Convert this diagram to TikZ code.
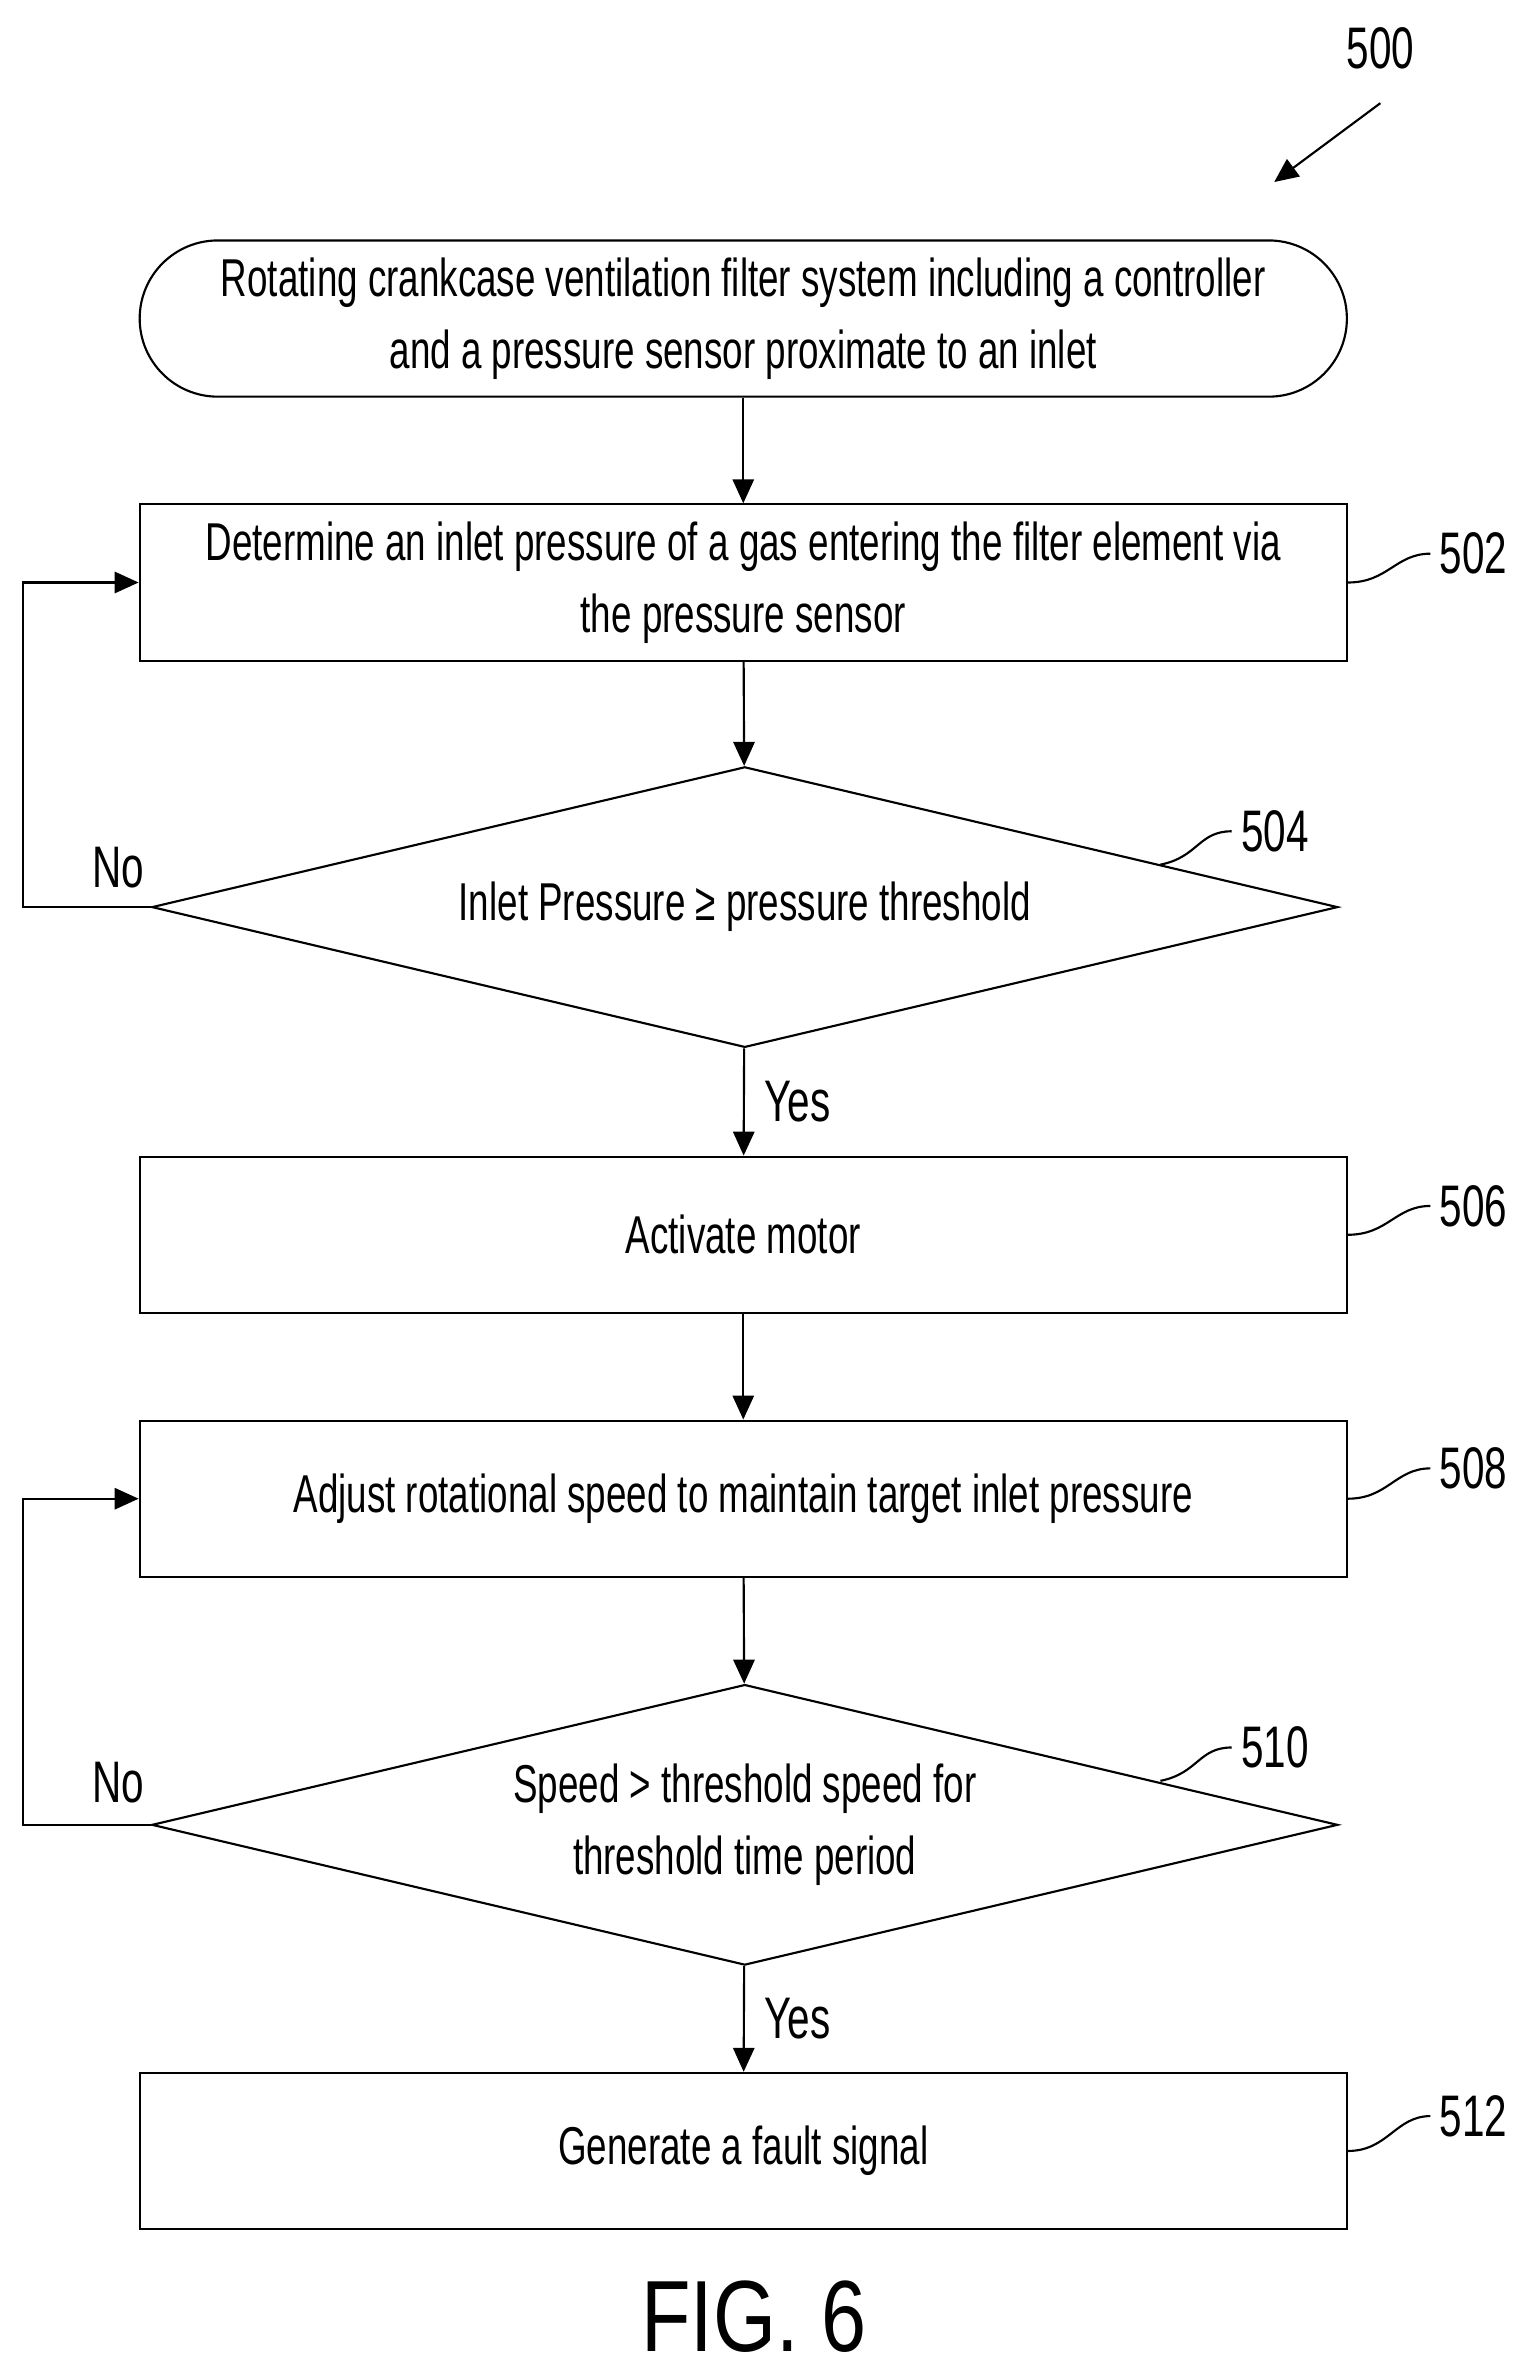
\documentclass[tikz,border=0pt]{standalone}
\usepackage{fontspec}
\setmainfont{Liberation Sans}[FakeStretch=0.69]
\newfontfamily\figfont{Liberation Sans}[FakeStretch=0.8]
\usetikzlibrary{arrows.meta,shapes.geometric,positioning}
\tikzset{
  box/.style = {draw, thick, minimum width=15.92cm, minimum height=2.06cm, align=center, font=\fontsize{20}{27}\selectfont},
  term/.style = {box, rounded corners=1.03cm},
  dec/.style = {draw, thick, diamond, aspect=4.25, minimum width=15.64cm, minimum height=3.7cm, align=center, font=\fontsize{20}{27}\selectfont, inner sep=0pt},
  flow/.style = {thick, -{Triangle[length=9pt,width=8pt]}},
  lbl/.style = {font=\fontsize{22}{26}\selectfont},
  ref/.style = {lbl, anchor=west}
}
\begin{document}
\begin{tikzpicture}[x=0.02cm, y=-0.02cm]
    \useasboundingbox (0,0) rectangle (1000,1569);

    \node [term] (start) at (490,210) {Rotating crankcase ventilation filter system including a controller\\and a pressure sensor proximate to an inlet};
    \node [box] (b502) at (490,384) {Determine an inlet pressure of a gas entering the filter element via\\the pressure sensor};
    \node [dec] (d504) at (491,598) {Inlet Pressure ≥ pressure threshold};
    \node [box] (b506) at (490,814) {Activate motor};
    \node [box] (b508) at (490,988) {Adjust rotational speed to maintain target inlet pressure};
    \node [dec] (d510) at (491,1203) {Speed > threshold speed for\\threshold time period};
    \node [box] (b512) at (490,1418) {Generate a fault signal};

    % main flow
    \draw [flow] (start) -- (b502);
    \draw [flow] (b502) -- (d504);
    \draw [flow] (d504) -- node [right, lbl, xshift=4pt] {Yes} (b506);
    \draw [flow] (b506) -- (b508);
    \draw [flow] (b508) -- (d510);
    \draw [flow] (d510) -- node [right, lbl, xshift=4pt] {Yes} (b512);

    % loops back
    \coordinate (c504) at (15,598);
    \coordinate (c510) at (15,1203);
    \draw [flow] (d504.west) -- (c504) |- (b502.west);
    \draw [flow] (d510.west) -- (c510) |- (b508.west);
    \node [lbl] (no504) at (78,572) {No};
    \node [lbl] (no510) at (78,1175) {No};

    % reference numerals
    \node [lbl] (n500) at (910,32) {500};
    \coordinate (a500) at (910,68);
    \draw [flow] (a500) -- (840,120);
    \node [ref] (n502) at (943,365) {502};
    \node [ref] (n504) at (812,548) {504};
    \node [ref] (n506) at (943,795) {506};
    \node [ref] (n508) at (943,968) {508};
    \node [ref] (n510) at (812,1152) {510};
    \node [ref] (n512) at (943,1395) {512};
    \draw [thick] (b502.east) .. controls (915,384) and (920,365) .. (n502.west);
    \draw [thick] (b506.east) .. controls (915,814) and (920,795) .. (n506.west);
    \draw [thick] (b508.east) .. controls (915,988) and (920,968) .. (n508.west);
    \draw [thick] (b512.east) .. controls (915,1418) and (920,1395) .. (n512.west);
    \draw [thick] (765,570) .. controls (790,565) and (790,548) .. (n504.west);
    \draw [thick] (765,1174) .. controls (790,1169) and (790,1152) .. (n510.west);

    \node [font=\figfont\fontsize{38}{46}\selectfont] (fig) at (497,1527) {FIG. 6};
\end{tikzpicture}
\end{document}
